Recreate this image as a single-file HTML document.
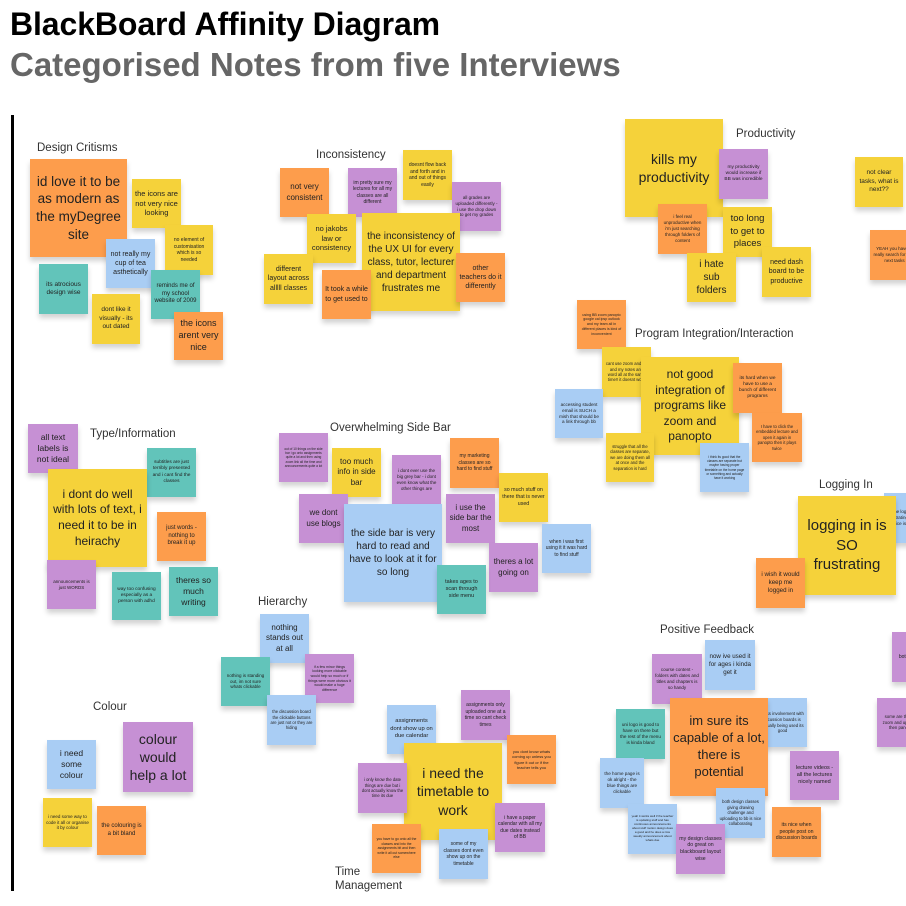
<!DOCTYPE html>
<html><head><meta charset="utf-8"><style>
body{margin:0;width:906px;height:906px;background:#fff;position:relative;overflow:hidden;font-family:"Liberation Sans",sans-serif}
.n{position:absolute;display:flex;align-items:center;justify-content:center;text-align:center;box-sizing:border-box;padding:3px;line-height:1.3;color:#222;box-shadow:0 4px 5px rgba(0,0,0,.18)}
.y{background:#f5d23a}.o{background:#fd9d4c}.p{background:#c690d4}.b{background:#a9cdf4}.t{background:#62c4ba}
.h{position:absolute;font-size:11.5px;color:#333;white-space:nowrap}
.t1{position:absolute;left:10px;top:6px;font-size:32px;font-weight:bold;letter-spacing:-0.1px;color:#000;white-space:nowrap}
.t2{position:absolute;left:10px;top:46px;font-size:33px;font-weight:bold;letter-spacing:0px;color:#666;white-space:nowrap}
</style></head><body>
<div class="t1">BlackBoard Affinity Diagram</div>
<div class="t2">Categorised Notes from five Interviews</div>
<div style="position:absolute;left:11px;top:115px;width:3px;height:776px;background:#000"></div>

<div class="h" style="left:37px;top:142px">Design Critisms</div>
<div class="n o" style="left:30px;top:159px;width:97px;height:98px;font-size:13.5px">id love it to be as modern as the myDegree site</div>
<div class="n y" style="left:132px;top:179px;width:49px;height:49px;font-size:7.5px">the icons are not very nice looking</div>
<div class="n y" style="left:165px;top:225px;width:48px;height:50px;font-size:5px">no element of customisation which is so needed</div>
<div class="n b" style="left:106px;top:239px;width:49px;height:49px;font-size:7px">not really my cup of tea asthetically</div>
<div class="n t" style="left:39px;top:264px;width:49px;height:50px;font-size:6.5px">its atrocious design wise</div>
<div class="n t" style="left:151px;top:270px;width:49px;height:49px;font-size:6px">reminds me of my school website of 2009</div>
<div class="n y" style="left:92px;top:294px;width:48px;height:50px;font-size:6.5px">dont like it visually - its out dated</div>
<div class="n o" style="left:174px;top:312px;width:49px;height:48px;font-size:9px">the icons arent very nice</div>

<div class="h" style="left:316px;top:149px">Inconsistency</div>
<div class="n o" style="left:280px;top:168px;width:49px;height:49px;font-size:8px">not very consistent</div>
<div class="n p" style="left:348px;top:168px;width:49px;height:49px;font-size:5px">im pretty sure my lectures for all my classes are all different</div>
<div class="n y" style="left:403px;top:150px;width:49px;height:50px;font-size:5px">doesnt flow back and forth and in and out of things easily</div>
<div class="n p" style="left:452px;top:182px;width:49px;height:49px;font-size:4.5px">all grades are uploaded differently - i use the drop down to get my grades</div>
<div class="n y" style="left:307px;top:214px;width:49px;height:49px;font-size:7.5px">no jakobs law or consistency</div>
<div class="n y" style="left:362px;top:213px;width:98px;height:98px;font-size:10px">the inconsistency of the UX UI for every class, tutor, lecturer and department frustrates me</div>
<div class="n y" style="left:264px;top:254px;width:49px;height:50px;font-size:7px">different layout across alllll classes</div>
<div class="n o" style="left:322px;top:270px;width:49px;height:49px;font-size:7px">It took a while to get used to</div>
<div class="n o" style="left:456px;top:253px;width:49px;height:49px;font-size:7px">other teachers do it differently</div>

<div class="n y" style="left:625px;top:119px;width:98px;height:98px;font-size:14px">kills my productivity</div>
<div class="h" style="left:736px;top:128px">Productivity</div>
<div class="n p" style="left:719px;top:149px;width:49px;height:50px;font-size:4.8px">my productivity would increase if BB was incredible</div>
<div class="n o" style="left:658px;top:204px;width:49px;height:50px;font-size:4.5px">i feel real unproductive when i'm just searching through folders of content</div>
<div class="n y" style="left:723px;top:207px;width:49px;height:50px;font-size:9.5px">too long to get to places</div>
<div class="n y" style="left:687px;top:253px;width:49px;height:49px;font-size:10px">i hate sub folders</div>
<div class="n y" style="left:762px;top:247px;width:49px;height:50px;font-size:7px">need dash board to be productive</div>
<div class="n y" style="left:855px;top:157px;width:48px;height:50px;font-size:6.5px">not clear tasks, what is next??</div>
<div class="n o" style="left:870px;top:230px;width:49px;height:50px;font-size:4.5px">YEAH you have to really search for your next tasks</div>

<div class="n o" style="left:577px;top:300px;width:49px;height:49px;font-size:3.6px">using BB zoom panopto google cal ipsp outlook and my team all in different places is kind of inconvenient</div>
<div class="h" style="left:635px;top:328px">Program Integration/Interaction</div>
<div class="n y" style="left:602px;top:347px;width:49px;height:50px;font-size:4.2px">cant use zoom and bb and my notes and word all at the same time!! it doesnt work</div>
<div class="n y" style="left:641px;top:357px;width:98px;height:98px;font-size:12px">not good integration of programs like zoom and panopto</div>
<div class="n o" style="left:733px;top:363px;width:49px;height:50px;font-size:4.8px">its hard when we have to use a bunch of different programs</div>
<div class="n b" style="left:555px;top:389px;width:48px;height:49px;font-size:4.6px">accessing student email is SUCH a mish that should be a link through bb</div>
<div class="n o" style="left:752px;top:413px;width:50px;height:49px;font-size:4.2px">I have to click the embedded lecture and open it again in panopto then it plays twice</div>
<div class="n y" style="left:606px;top:433px;width:48px;height:49px;font-size:4.2px">struggle that all the classes are separate, we are doing them all at once and the separation is hard</div>
<div class="n b" style="left:700px;top:443px;width:49px;height:49px;font-size:3.2px">i think its good that the classes are separate but maybe having proper timetable on the home page or something and actually have it working</div>

<div class="n p" style="left:28px;top:424px;width:50px;height:49px;font-size:8.5px">all text labels is not ideal</div>
<div class="h" style="left:90px;top:428px">Type/Information</div>
<div class="n t" style="left:147px;top:448px;width:49px;height:49px;font-size:4.8px">subtitles are just terribly presented and i cant find the classes</div>
<div class="n y" style="left:48px;top:469px;width:99px;height:98px;font-size:12px">i dont do well with lots of text, i need it to be in heirachy</div>
<div class="n o" style="left:157px;top:512px;width:49px;height:49px;font-size:6px">just words - nothing to break it up</div>
<div class="n p" style="left:47px;top:560px;width:49px;height:49px;font-size:4.5px">announcements is just WORDS</div>
<div class="n t" style="left:112px;top:572px;width:49px;height:48px;font-size:4.8px">way too confusing especially as a person with adhd</div>
<div class="n t" style="left:169px;top:567px;width:49px;height:49px;font-size:8.5px">theres so much writing</div>

<div class="h" style="left:330px;top:422px">Overwhelming Side Bar</div>
<div class="n p" style="left:279px;top:433px;width:49px;height:49px;font-size:3.2px">out of 10 things on the side bar i go onto assignments quite a lot and then using zoom link all the time and announcements quite a lot</div>
<div class="n y" style="left:332px;top:448px;width:49px;height:49px;font-size:8px">too much info in side bar</div>
<div class="n p" style="left:392px;top:455px;width:49px;height:50px;font-size:4.5px">i dont ever use the big grey bar - i dont even know what the other things are</div>
<div class="n o" style="left:450px;top:438px;width:49px;height:50px;font-size:5px">my marketing classes are so hard to find stuff</div>
<div class="n y" style="left:499px;top:473px;width:49px;height:49px;font-size:5.3px">so much stuff on there that is never used</div>
<div class="n p" style="left:299px;top:494px;width:49px;height:49px;font-size:8px">we dont use blogs</div>
<div class="n b" style="left:344px;top:504px;width:98px;height:98px;font-size:10px">the side bar is very hard to read and have to look at it for so long</div>
<div class="n p" style="left:446px;top:494px;width:49px;height:49px;font-size:8px">i use the side bar the most</div>
<div class="n b" style="left:542px;top:524px;width:49px;height:49px;font-size:5px">when i was first using it it was hard to find stuff</div>
<div class="n p" style="left:489px;top:543px;width:49px;height:49px;font-size:8px">theres a lot going on</div>
<div class="n t" style="left:437px;top:565px;width:49px;height:49px;font-size:5.5px">takes ages to scan through side menu</div>

<div class="h" style="left:258px;top:596px">Hierarchy</div>
<div class="n b" style="left:260px;top:614px;width:49px;height:49px;font-size:8px">nothing stands out at all</div>
<div class="n t" style="left:221px;top:657px;width:49px;height:49px;font-size:4.5px">nothing is standing out, im not sure whats clickable</div>
<div class="n p" style="left:305px;top:654px;width:49px;height:49px;font-size:3.5px">if a few minor things looking more clickable would help so much or if things were more obvious it would make a huge difference</div>
<div class="n b" style="left:267px;top:695px;width:49px;height:50px;font-size:4.2px">the discussion board the clickable buttons are just not or they are hiding</div>

<div class="n b" style="left:387px;top:705px;width:49px;height:49px;font-size:5.8px">assignments dont show up on due calendar</div>
<div class="n p" style="left:461px;top:690px;width:49px;height:50px;font-size:5px">assignments only uploaded one at a time so cant check times</div>
<div class="n o" style="left:507px;top:735px;width:49px;height:49px;font-size:4px">you dont know whats coming up unless you figure it out or if the teacher tells you</div>
<div class="n y" style="left:404px;top:743px;width:98px;height:97px;font-size:14px">i need the timetable to work</div>
<div class="n p" style="left:358px;top:763px;width:49px;height:50px;font-size:4.2px">i only know the date things are due but i dont actually know the time its due</div>
<div class="n p" style="left:495px;top:803px;width:50px;height:49px;font-size:5px">i have a paper calendar with all my due dates instead of BB</div>
<div class="n o" style="left:372px;top:824px;width:49px;height:49px;font-size:3.4px">you have to go onto all the classes and into the assignments bit and then write it all out somewhere else</div>
<div class="n b" style="left:439px;top:829px;width:49px;height:50px;font-size:5px">some of my classes dont even show up on the timetable</div>
<div class="h" style="left:335px;top:866px;line-height:1.2">Time<br>Management</div>

<div class="h" style="left:93px;top:701px">Colour</div>
<div class="n p" style="left:123px;top:722px;width:70px;height:70px;font-size:14px">colour would help a lot</div>
<div class="n b" style="left:47px;top:740px;width:49px;height:49px;font-size:8.5px">i need some colour</div>
<div class="n y" style="left:43px;top:798px;width:49px;height:49px;font-size:4.5px">i need some way to code it all or organise it by colour</div>
<div class="n o" style="left:97px;top:806px;width:49px;height:49px;font-size:6px">the colouring is a bit bland</div>

<div class="h" style="left:819px;top:479px">Logging In</div>
<div class="n b" style="left:884px;top:493px;width:49px;height:50px;font-size:4.5px">the logging in is frustrating - pressing twice is annoying</div>
<div class="n y" style="left:798px;top:496px;width:98px;height:99px;font-size:15px">logging in is SO frustrating</div>
<div class="n o" style="left:756px;top:558px;width:49px;height:50px;font-size:6.2px">i wish it would keep me logged in</div>

<div class="h" style="left:660px;top:624px">Positive Feedback</div>
<div class="n b" style="left:705px;top:640px;width:50px;height:50px;font-size:6.2px">now ive used it for ages i kinda get it</div>
<div class="n p" style="left:652px;top:654px;width:50px;height:50px;font-size:4.5px">course content - folders with dates and titles and chapters is so handy</div>
<div class="n b" style="left:758px;top:698px;width:49px;height:49px;font-size:4.3px">class involvement with dicussion boards is actually being used its good</div>
<div class="n t" style="left:616px;top:709px;width:49px;height:50px;font-size:4.6px">uni logo is good to have on there but the rest of the menu is kinda bland</div>
<div class="n o" style="left:670px;top:698px;width:98px;height:98px;font-size:13px">im sure its capable of a lot, there is potential</div>
<div class="n p" style="left:790px;top:751px;width:49px;height:49px;font-size:5.5px">lecture videos - all the lectures nicely named</div>
<div class="n b" style="left:600px;top:758px;width:44px;height:50px;font-size:4.6px">the home page is ok alright - the blue things are clickable</div>
<div class="n b" style="left:716px;top:788px;width:49px;height:50px;font-size:4.2px">both design classes giving drawing challenge and uploading to bb is nice collaborating</div>
<div class="n b" style="left:628px;top:804px;width:49px;height:50px;font-size:3px">yeah it works well if the teacher is updating stuff and has continuous announcements about stuff motion design does a good and he does a nice weekly announcement about whats due</div>
<div class="n o" style="left:772px;top:807px;width:49px;height:50px;font-size:5.2px">its nice when people post on discussion boards</div>
<div class="n p" style="left:676px;top:824px;width:49px;height:50px;font-size:5.2px">my design classes do great on blackboard layout wise</div>
<div class="n p" style="left:892px;top:632px;width:49px;height:50px;font-size:5px">both ways great</div>
<div class="n p" style="left:877px;top:698px;width:49px;height:49px;font-size:4.3px">some are through zoom and uploaded then panopto</div>
</body></html>
